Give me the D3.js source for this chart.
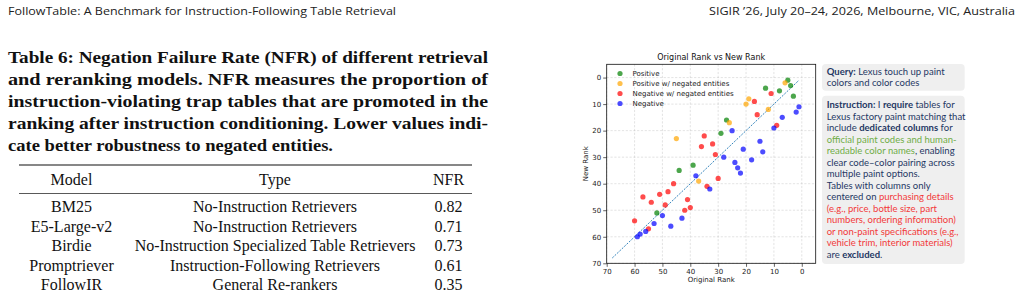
<!DOCTYPE html>
<html>
<head>
<meta charset="utf-8">
<script src="https://d3js.org/d3.v7.min.js"></script>
<style>
  body { margin: 0; background: white; }
  svg { display: block; }
</style>
</head>
<body>
<div id="page"></div>
<script>
// scatter: [original rank, new rank]
const positive = [[5,1],[4,3],[8,5],[13,4],[3,7],[27,16],[29,21],[39,33],[44,35],[52,51]];
const positiveNegated = [[6,2],[12,12],[20,10],[19,8],[26,17],[45,23],[37,39]];
const negativeNegated = [[11,6],[17,9],[16,14],[9,18],[35,22],[32,25],[36,26],[31,29],[30,38],[34,41],
  [46,40],[57,45],[48,43],[51,44],[54,47],[49,48],[41,46],[42,50],[40,49],[60,54],[55,57]];
const negative = [[1,11],[2,13],[7,15],[10,19],[25,20],[15,24],[14,28],[21,27],[18,31],[28,30],[24,32],
  [23,34],[22,36],[38,37],[33,42],[50,52],[53,55],[43,53],[47,56],[56,58],[58,59],[59,60]];
const seriesNames = ["Positive", "Positive w/ negated entities", "Negative w/ negated entities", "Negative"];
const seriesColors = ["green", "orange", "red", "blue"];
const rankTicks = [70, 60, 50, 40, 30, 20, 10, 0];
const diagonal = [68, 1];

// table 6
const models = ["BM25", "E5-Large-v2", "Birdie", "Promptriever", "FollowIR"];
const modelTypes = ["No-Instruction Retrievers", "No-Instruction Retrievers",
  "No-Instruction Specialized Table Retrievers", "Instruction-Following Retrievers", "General Re-rankers"];
const nfr = ["0.82", "0.71", "0.73", "0.61", "0.35"];
const tableHead = ["Model", "Type", "NFR"];

const captionLines = [
  "Table 6: Negation Failure Rate (NFR) of different retrieval",
  "and reranking models. NFR measures the proportion of",
  "instruction-violating trap tables that are promoted in the",
  "ranking after instruction conditioning. Lower values indi-",
  "cate better robustness to negated entities."
];
const captionWidths = [480, 480, 480, 480, 325];

// side panel: [text, kind] where kind n = navy, b = bold navy, g = green, r = red
const queryLines = [
  [["Query:", "b"], [" Lexus touch up paint", "n"]],
  [["colors and color codes", "n"]]
];
const instructionLines = [
  [["Instruction:", "b"], [" I ", "n"], ["require", "b"], [" tables for", "n"]],
  [["Lexus factory paint matching that", "n"]],
  [["include ", "n"], ["dedicated columns", "b"], [" for", "n"]],
  [["official paint codes and human-", "g"]],
  [["readable color names", "g"], [", enabling", "n"]],
  [["clear code\u2013color pairing across", "n"]],
  [["multiple paint options.", "n"]],
  [["Tables with columns only", "n"]],
  [["centered on ", "n"], ["purchasing details", "r"]],
  [["(e.g., price, bottle size, part", "r"]],
  [["numbers, ordering information)", "r"]],
  [["or non-paint specifications (e.g.,", "r"]],
  [["vehicle trim, interior materials)", "r"]],
  [["are ", "n"], ["excluded", "b"], [".", "n"]]
];

const W = 1023, H = 295;
const svg = d3.select("#page").append("svg").attr("width", W).attr("height", H)
  .style("background", "white");

// running header
svg.append("text").attr("x", 8).attr("y", 15)
  .attr("textLength", 388).attr("lengthAdjust", "spacingAndGlyphs")
  .style("font", "11px 'Open Sans', sans-serif").attr("fill", "#222")
  .text("FollowTable: A Benchmark for Instruction-Following Table Retrieval");
svg.append("text").attr("x", 709).attr("y", 15)
  .attr("textLength", 306).attr("lengthAdjust", "spacingAndGlyphs")
  .style("font", "11px 'Open Sans', sans-serif").attr("fill", "#222")
  .text("SIGIR \u201926, July 20\u201324, 2026, Melbourne, VIC, Australia");

// caption
svg.selectAll("text.cap").data(captionLines).enter().append("text")
  .attr("class", "cap")
  .attr("x", 8).attr("y", (d, i) => 62.5 + i * 22.2)
  .attr("textLength", (d, i) => captionWidths[i])
  .attr("lengthAdjust", "spacingAndGlyphs")
  .style("font", "bold 17px 'Liberation Serif', serif").attr("fill", "#111")
  .text(d => d);

// table
const colX = [71.5, 275, 448.5];
svg.append("line").attr("x1", 19).attr("x2", 472).attr("y1", 165).attr("y2", 165)
  .attr("stroke", "#111").attr("stroke-width", 1.1);
svg.append("line").attr("x1", 19).attr("x2", 472).attr("y1", 193.5).attr("y2", 193.5)
  .attr("stroke", "#111").attr("stroke-width", 0.7);
const tableFont = "16px 'Liberation Serif', serif";
svg.selectAll("text.th").data(tableHead).enter().append("text").attr("class", "th")
  .attr("x", (d, i) => colX[i]).attr("y", 185).attr("text-anchor", "middle")
  .style("font", tableFont).attr("fill", "#111").text(d => d);
const rowY = i => 212 + i * 19.5;
models.forEach((m, i) => {
  [m, modelTypes[i], nfr[i]].forEach((v, j) => {
    svg.append("text").attr("x", colX[j]).attr("y", rowY(i)).attr("text-anchor", "middle")
      .style("font", tableFont).attr("fill", "#111").text(v);
  });
});

// scatter plot
const plot = { left: 606.7, right: 815.7, top: 64.3, bottom: 263.3 };
const x = d3.scaleLinear().domain([70, -5]).range([plot.left, plot.right]);
const y = d3.scaleLinear().domain([-5, 70]).range([plot.top, plot.bottom]);
const tickFont = "7px 'DejaVu Sans', sans-serif";

const grid = svg.append("g");
grid.selectAll("line.gx").data(rankTicks).enter().append("line")
  .attr("x1", d => x(d)).attr("x2", d => x(d)).attr("y1", plot.top).attr("y2", plot.bottom)
  .attr("stroke", "#b0b0b0").attr("stroke-opacity", 0.6).attr("stroke-width", 0.6)
  .attr("stroke-dasharray", "2.2,1.6");
grid.selectAll("line.gy").data(rankTicks).enter().append("line")
  .attr("y1", d => y(d)).attr("y2", d => y(d)).attr("x1", plot.left).attr("x2", plot.right)
  .attr("stroke", "#b0b0b0").attr("stroke-opacity", 0.6).attr("stroke-width", 0.6)
  .attr("stroke-dasharray", "2.2,1.6");

const xAxis = svg.append("g").attr("transform", `translate(0,${plot.bottom})`)
  .call(d3.axisBottom(x).tickValues(rankTicks).tickSize(3.5).tickPadding(2).tickFormat(d3.format("d")));
const yAxis = svg.append("g").attr("transform", `translate(${plot.left},0)`)
  .call(d3.axisLeft(y).tickValues(rankTicks).tickSize(3.5).tickPadding(2).tickFormat(d3.format("d")));
[xAxis, yAxis].forEach(a => {
  a.select(".domain").remove();
  a.selectAll("line").attr("stroke", "#222").attr("stroke-width", 0.7);
  a.selectAll("text").style("font", tickFont).attr("fill", "#222");
});

svg.append("rect").attr("x", plot.left).attr("y", plot.top)
  .attr("width", plot.right - plot.left).attr("height", plot.bottom - plot.top)
  .attr("fill", "none").attr("stroke", "#111").attr("stroke-width", 0.8);

svg.append("line")
  .attr("x1", x(diagonal[0])).attr("y1", y(diagonal[0]))
  .attr("x2", x(diagonal[1])).attr("y2", y(diagonal[1]))
  .attr("stroke", "#1f77b4").attr("stroke-width", 0.9).attr("stroke-dasharray", "2,1.3");

const allSeries = [positive, positiveNegated, negativeNegated, negative];
allSeries.forEach((pts, k) => {
  svg.append("g").selectAll("circle").data(pts).enter().append("circle")
    .attr("cx", d => x(d[0])).attr("cy", d => y(d[1])).attr("r", 2.6)
    .attr("fill", seriesColors[k]).attr("fill-opacity", 0.7);
});

// legend
const legend = svg.append("g");
seriesNames.forEach((name, k) => {
  const ly = 73.5 + k * 10;
  legend.append("circle").attr("cx", 620).attr("cy", ly).attr("r", 2.6)
    .attr("fill", seriesColors[k]).attr("fill-opacity", 0.7);
  legend.append("text").attr("x", 632.5).attr("y", ly + 2.5)
    .style("font", tickFont).attr("fill", "#222").text(name);
});

svg.append("text").attr("x", (plot.left + plot.right) / 2).attr("y", 60)
  .attr("text-anchor", "middle").style("font", "8px 'DejaVu Sans', sans-serif").attr("fill", "#111")
  .text("Original Rank vs New Rank");
svg.append("text").attr("x", (plot.left + plot.right) / 2).attr("y", 282)
  .attr("text-anchor", "middle").style("font", tickFont).attr("fill", "#222")
  .text("Original Rank");
svg.append("text").attr("transform", `translate(588,${(plot.top + plot.bottom) / 2}) rotate(-90)`)
  .attr("text-anchor", "middle").style("font", tickFont).attr("fill", "#222")
  .text("New Rank");

// side panel
const kindFill = { n: "#1f3864", b: "#1f3864", g: "#70ad47", r: "#f23a3a" };
const panelFont = "'Lato', sans-serif";
function drawBox(y0, y1, lines, firstBase, step) {
  svg.append("rect").attr("x", 822).attr("y", y0).attr("width", 142.7).attr("height", y1 - y0)
    .attr("rx", 4).attr("fill", "#efefef");
  lines.forEach((segs, i) => {
    const t = svg.append("text").attr("x", 826.7).attr("y", firstBase + i * step)
      .style("font-family", panelFont).style("font-size", "9.5px");
    segs.forEach(([s, kind]) => {
      t.append("tspan").attr("fill", kindFill[kind])
        .attr("font-weight", kind === "b" ? "bold" : "normal")
        .text(s);
    });
  });
}
svg.attr("xml:space", "preserve");
drawBox(64, 90.7, queryLines, 74.8, 11.3);
drawBox(95.7, 264, instructionLines, 108.2, 11.52);
</script>
</body>
</html>
